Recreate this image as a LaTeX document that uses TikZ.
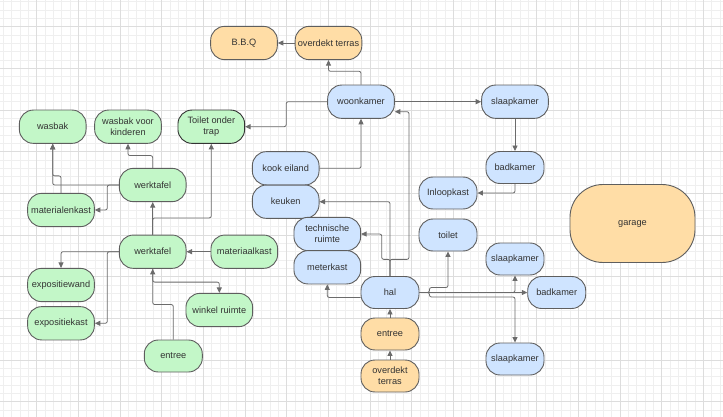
\documentclass[tikz,border=0pt]{standalone}
\usepackage{fontspec}
\setmainfont{Liberation Sans}
\usetikzlibrary{arrows.meta,calc}
\definecolor{bluef}{HTML}{CFE4FF}
\definecolor{greenf}{HTML}{C3F7C8}
\definecolor{orangef}{HTML}{FFDDA6}
\definecolor{bord}{HTML}{5E5E5E}
\definecolor{txt}{HTML}{333333}
\definecolor{lnc}{HTML}{6B6B6B}
\definecolor{gminor}{HTML}{EFEFEF}
\definecolor{gmajor}{HTML}{DDDDDD}
\tikzset{
  box/.style={draw=bord, line width=0.9pt, rounded corners=14pt, minimum width=66.7pt,
    minimum height=33.3pt, inner sep=0pt, align=center, text=txt,
    font=\fontsize{9.2}{11}\selectfont},
  small/.style={box, minimum width=58pt, minimum height=32pt},
  bl/.style={fill=bluef}, gr/.style={fill=greenf}, og/.style={fill=orangef},
  conn/.style={draw=lnc, line width=0.8pt, rounded corners=2pt,
    -{Triangle[length=5.5pt,width=5pt]}}
}
\begin{document}
\begin{tikzpicture}[x=1pt,y=-1pt]
\useasboundingbox (0,0) rectangle (723,417);
\fill[white] (0,0) rectangle (723,417);
% grid
\foreach \k in {0,...,86} {\draw[gminor,line width=0.6pt] ({3.37+8.333*\k},0) -- ({3.37+8.333*\k},417);}
\foreach \k in {0,...,49} {\draw[gminor,line width=0.6pt] (0,{1.7+8.333*\k}) -- (723,{1.7+8.333*\k});}
\foreach \k in {0,...,17} {\draw[gmajor,line width=0.7pt] ({-5+41.667*\k},0) -- ({-5+41.667*\k},417);}
\foreach \k in {0,...,9} {\draw[gmajor,line width=0.7pt] (0,{26.7+41.667*\k}) -- (723,{26.7+41.667*\k});}

% nodes
\node[box,og] (bbq) at (244,43) {B.B.Q};
\node[box,og] (ot1) at (328.5,43) {overdekt terras};
\node[box,gr] (wasbak) at (52.7,126.7) {wasbak};
\node[box,gr] (wvk) at (128,126.7) {wasbak voor\\kinderen};
\node[box,gr,draw=black!80] (tot) at (211.3,126.7) {Toilet onder\\trap};
\node[box,gr] (wt1) at (152.7,185) {werktafel};
\node[box,gr] (mk) at (61,210) {materialenkast};
\node[box,gr] (wt2) at (152.7,251.7) {werktafel};
\node[box,gr] (mak) at (244.3,251.7) {materiaalkast};
\node[box,gr] (ew) at (61,285) {expositiewand};
\node[box,gr] (ek) at (61,323.3) {expositiekast};
\node[box,gr] (wr) at (219.3,310) {winkel ruimte};
\node[small,gr] (en1) at (173.3,356) {entree};
\node[box,bl] (kook) at (285.7,168.3) {kook eiland};
\node[box,bl] (keuken) at (285.7,201.7) {keuken};
\node[box,bl] (woon) at (361,101.7) {woonkamer};
\node[box,bl] (sl1) at (515,101.7) {slaapkamer};
\node[small,bl] (bad1) at (515,167.5) {badkamer};
\node[small,bl] (inl) at (448,193) {Inloopkast};
\node[small,bl] (toilet) at (448,235) {toilet};
\node[box,bl] (tr) at (327.3,234) {technische\\ruimte};
\node[box,bl] (mtr) at (327.3,267.3) {meterkast};
\node[small,bl] (hal) at (390,292.5) {hal};
\node[small,og] (en2) at (390,334) {entree};
\node[small,og] (ot2) at (390,376) {overdekt\\terras};
\node[small,bl] (sl2) at (515,259) {slaapkamer};
\node[small,bl] (bad2) at (556.7,292.5) {badkamer};
\node[small,bl] (sl3) at (515,359) {slaapkamer};
\node[box,og,rounded corners=33pt,minimum width=125pt,minimum height=78pt] (garage) at (632.5,223.5) {garage};

% connectors (house)
\draw[conn] (ot1.west) -- (bbq.east);
\draw[conn] (woon.north) -- ++(0,-13.3) -| (ot1.south);
\draw[conn] (woon.west) -- ++(-41,0) |- (tot.east);
\draw[conn] (woon.east) -- (sl1.west);
\draw[conn] (sl1.south) -- (bad1.north);
\draw[conn] (bad1.south) |- (inl.east);
\draw[conn] (kook.east) -| (woon.south);
\draw[conn] (hal.north) |- (keuken.east);
\draw[conn] (hal.north) -- ++(0,-16.7) -- ++(19,0) |- ([yshift=-10pt]woon.east);
\draw[conn] (hal.north) -- ++(0,-16.7) -- ++(-8.3,0) |- (tr.east);
\draw[conn] ([yshift=-5pt]hal.west) -| (mtr.south);
\draw[conn] (en2.north) -- (hal.south);
\draw[conn] (ot2.north) -- (en2.south);
\draw[conn] (hal.east) -- ++(10,0) -- ++(0,-5) -| (toilet.south);
\draw[conn] (hal.east) -- (bad2.west);
\draw[conn] (hal.east) -| (sl2.south);
\draw[conn] (hal.east) -- ++(10,0) -- ++(0,4.5) -| (sl3.north);

% connectors (shop)
\draw[conn] (wt1.west) -| (wasbak.south);
\draw[conn] (mk.north) -- ++(0,-17) -| (wasbak.south);
\draw[conn] (wt1.north) -- ++(0,-12.3) -| (wvk.south);
\draw[conn] (wt1.west) -- ++(-11.6,0) |- (mk.east);
\draw[conn] (wt2.north) -- (wt1.south);
\draw[conn] (wt2.north) -- ++(0,-16.7) -| (tot.south);
\draw[conn] (mak.west) -- (wt2.east);
\draw[conn] (wt2.west) -| (ew.north);
\draw[conn] (wt2.west) -- ++(-11.6,0) |- (ek.east);
\draw[conn] (en1.north) -- ++(0,-35) -| (wt2.south);
\draw[conn] (wt2.south) -- ++(0,13.3) -| (wr.north);
\end{tikzpicture}
\end{document}
